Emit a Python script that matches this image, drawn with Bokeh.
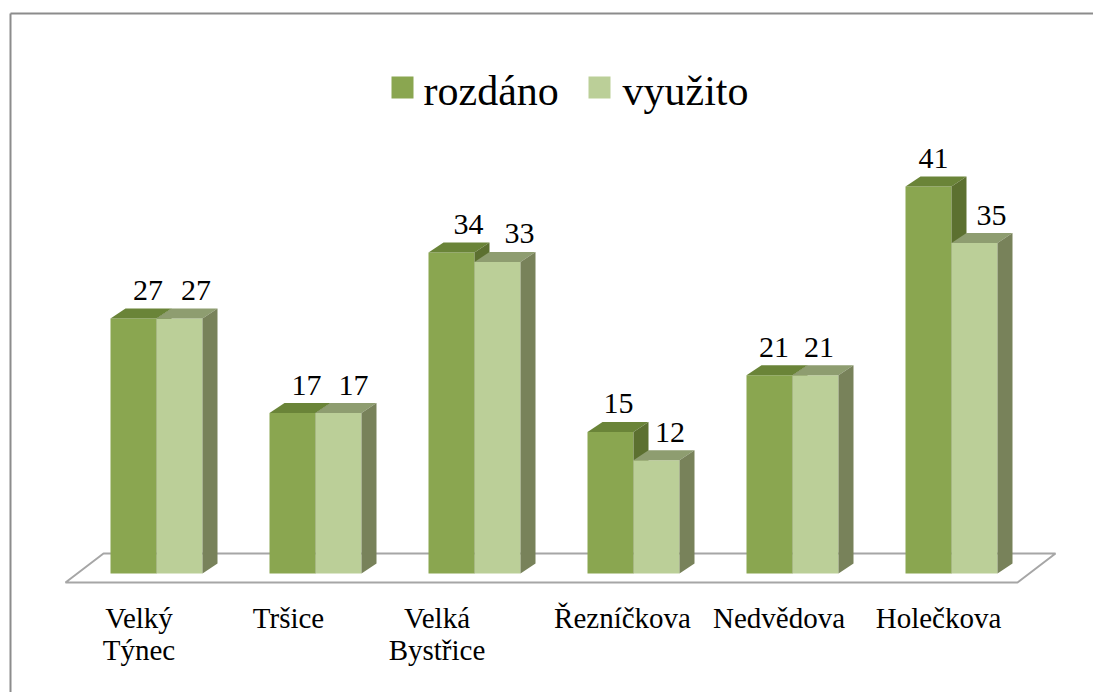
from bokeh.plotting import figure
from bokeh.models import Range1d, ColumnDataSource
from bokeh.core.properties import value
from bokeh.embed import file_html
from bokeh.resources import INLINE

# ---- data ----
categories = ["Velký\nTýnec", "Tršice", "Velká\nBystřice", "Řezníčkova", "Nedvědova", "Holečkova"]
rozdano = [27, 17, 34, 15, 21, 41]
vyuzito = [27, 17, 33, 12, 21, 35]
series_names = ["rozdáno", "využito"]

# ---- layout (pixels) ----
W, H = 1093, 692
PX_X = 159.0   # px per category slot
PX_Y = 9.44    # px per value unit
X0 = 156.0     # canvas x of first category centre
Y0 = 573.0     # canvas y (from top) of value 0

x_start = -X0 / PX_X
x_end = x_start + W / PX_X
y_start = -(H - Y0) / PX_Y
y_end = y_start + H / PX_Y


def dx(px):
    return px / PX_X


def dy(px):
    return px / PX_Y


def cx(px):
    return x_start + px / PX_X


def cy(py):
    return y_end - py / PX_Y


BW = dx(46)     # bar width
DX = dx(15)     # depth offset x
DY = dy(10)     # depth offset y

FONT = value("'Liberation Serif', serif")

front_colors = ["#8AA650", "#BBCF98"]
top_colors = ["#6A8438", "#8E9D70"]
side_colors = ["#5C7030", "#78825A"]

# small horizontal nudges of the value labels (px), per series
value_label_nudge_px = [[-0.5, -1, 2, -7, -10.5, -10], [1.5, 0, 7, -1.5, -11.5, 2]]

p = figure(width=W, height=H, output_backend="svg", toolbar_location=None,
           x_range=Range1d(x_start, x_end), y_range=Range1d(y_start, y_end),
           x_axis_location=None, y_axis_location=None, min_border=0,
           outline_line_color=None)
p.grid.visible = False
p.background_fill_color = "white"
p.border_fill_color = "white"

# chart border (top + left visible)
p.segment(x0=[cx(10), cx(10)], y0=[cy(13), cy(13)], x1=[cx(10), cx(W + 20)], y1=[cy(H + 20), cy(13)],
          line_color="#8c8c8c", line_width=2)

# floor
floor_px = [(65, 582), (103, 553), (1055, 553), (1017, 582)]
p.patch([cx(a) for a, b in floor_px], [cy(b) for a, b in floor_px],
        fill_color="white", line_color="#a6a6a6", line_width=2)

for s, vals in enumerate([rozdano, vyuzito]):
    lefts = [i - BW + s * BW for i in range(len(vals))]
    rights = [l + BW for l in lefts]
    src = ColumnDataSource(dict(left=lefts, right=rights, top=vals, bottom=[0] * len(vals)))
    p.quad(left="left", right="right", top="top", bottom="bottom", source=src,
           fill_color=front_colors[s], line_color=None)
    tx = [[l, l + DX, rr + DX, rr] for l, rr in zip(lefts, rights)]
    ty = [[v, v + DY, v + DY, v] for v in vals]
    p.patches(tx, ty, fill_color=top_colors[s], line_color=None)
    sx = [[rr, rr, rr + DX, rr + DX] for rr in rights]
    sy = [[0, v, v + DY, DY] for v in vals]
    p.patches(sx, sy, fill_color=side_colors[s], line_color=None)
    # data labels
    p.text(x=[(l + rr) / 2 + DX + dx(n) for l, rr, n in zip(lefts, rights, value_label_nudge_px[s])],
           y=[v + DY + dy(18) for v in vals], text=[str(v) for v in vals],
           text_align="center", text_baseline="alphabetic",
           text_font=FONT, text_font_size="30px", text_color="black")

# category labels
label_shift_px = [-17.5, -27, -37.5, -11, -13.5, -13]
p.text(x=[i + dx(sh) for i, sh in enumerate(label_shift_px)],
       y=[cy(601)] * len(categories), text=categories,
       text_align="center", text_baseline="top", text_line_height=1.03,
       text_font=FONT, text_font_size="29px", text_color="black")

# legend (square swatches + labels)
sw_left_px = [391, 588]
lab_left_px = [423, 622]
p.quad(left=[cx(a) for a in sw_left_px], right=[cx(a + 22) for a in sw_left_px],
       top=[cy(76)] * 2, bottom=[cy(98)] * 2, fill_color=front_colors, line_color=None)
p.text(x=[cx(a) for a in lab_left_px], y=[cy(90)] * 2, text=series_names,
       text_align="left", text_baseline="alphabetic",
       text_font=FONT, text_font_size="42px", text_color="black")

open("out.html", "w").write(file_html(p, INLINE))
